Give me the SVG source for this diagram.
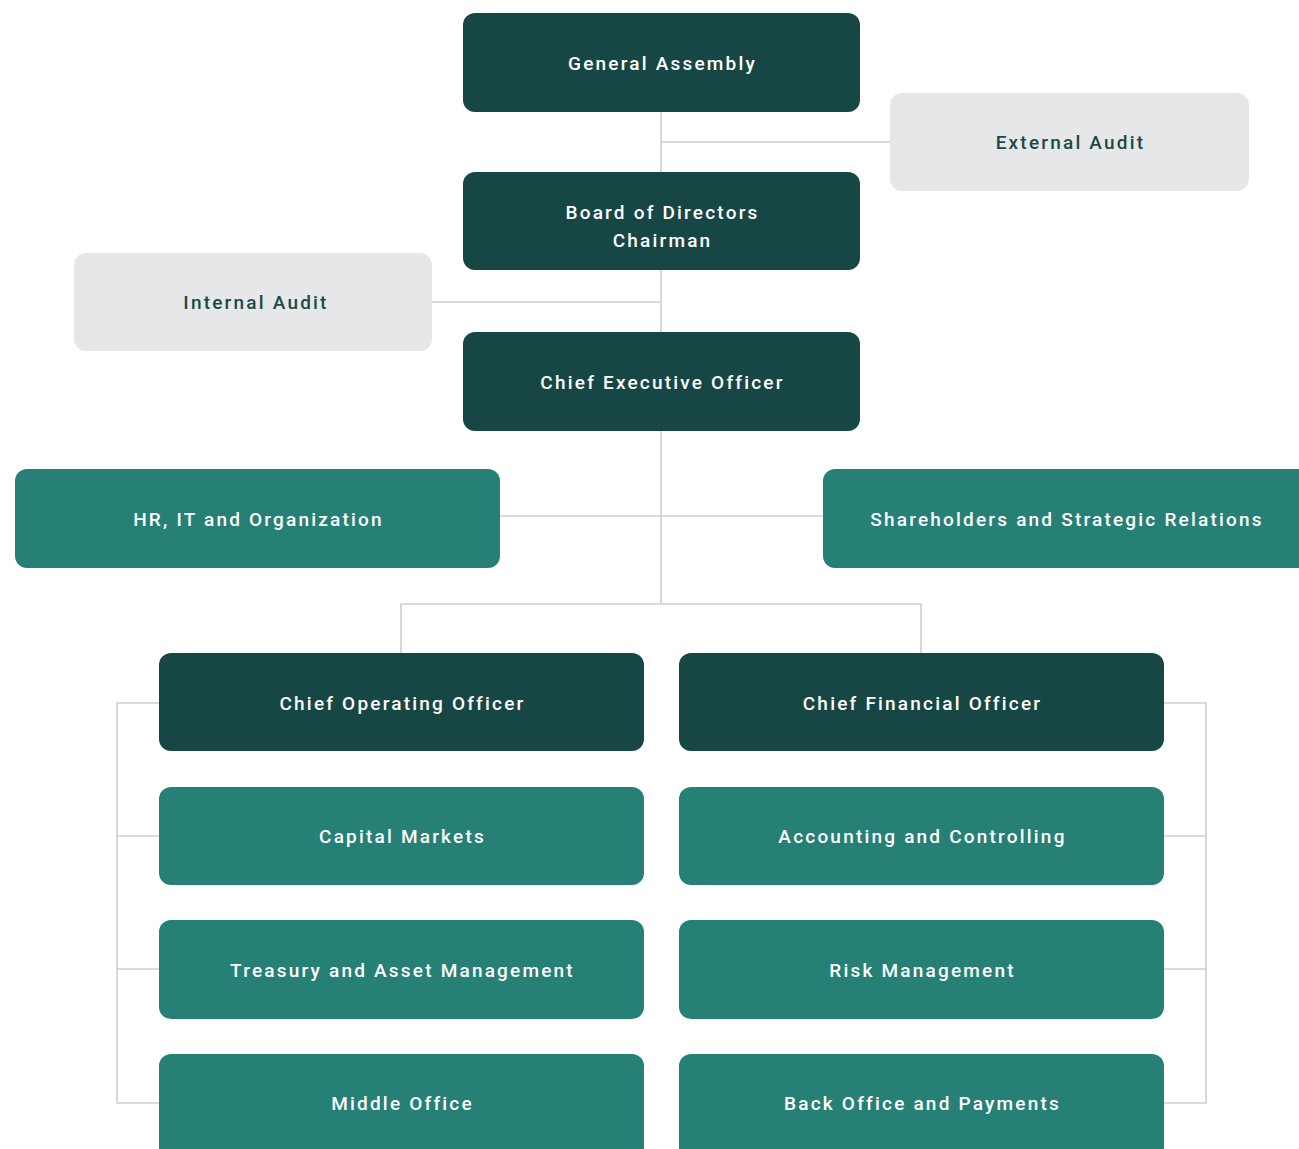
<svg xmlns="http://www.w3.org/2000/svg" width="1299" height="1149" viewBox="0 0 1299 1149">
  <style>
    .dark { fill: #174744; }
    .teal { fill: #268076; }
    .light { fill: #e6e7e9; }
    .lbl { font-family: Roboto, "Liberation Sans", sans-serif; font-size: 19px; font-weight: 500; letter-spacing: 2.2px; text-anchor: middle; dominant-baseline: central; fill: #ffffff; }
    .lbl-dark { fill: #1b4a46; }
    .conn { fill: none; stroke: #cfcfcf; stroke-width: 1.6; }
  </style>
  <rect width="1299" height="1149" fill="#ffffff"/>

  <g id="connectors">
    <path class="conn" d="M661 112 V604"/>
    <path class="conn" d="M661 142 H890"/>
    <path class="conn" d="M432 302 H661"/>
    <path class="conn" d="M500 516 H823"/>
    <path class="conn" d="M401 653 V604 H921 V653"/>
    <path class="conn" d="M159 703 H117 V1103 H159 M117 836 H159 M117 969 H159"/>
    <path class="conn" d="M1164 703 H1206 V1103 H1164 M1206 836 H1164 M1206 969 H1164"/>
  </g>

  <g id="general-assembly">
    <rect class="dark" x="463" y="13" width="397" height="99" rx="12"/>
    <text class="lbl" x="662.5" y="63">General Assembly</text>
  </g>
  <g id="external-audit">
    <rect class="light" x="890" y="93" width="359" height="98" rx="12"/>
    <text class="lbl lbl-dark" x="1070.5" y="142">External Audit</text>
  </g>
  <g id="board">
    <rect class="dark" x="463" y="172" width="397" height="98" rx="12"/>
    <text class="lbl" x="662.5" y="212">Board of Directors</text>
    <text class="lbl" x="662.5" y="240">Chairman</text>
  </g>
  <g id="internal-audit">
    <rect class="light" x="74" y="253" width="358" height="98" rx="12"/>
    <text class="lbl lbl-dark" x="256" y="302">Internal Audit</text>
  </g>
  <g id="ceo">
    <rect class="dark" x="463" y="332" width="397" height="99" rx="12"/>
    <text class="lbl" x="662.5" y="382">Chief Executive Officer</text>
  </g>
  <g id="hr-it">
    <rect class="teal" x="15" y="469" width="485" height="99" rx="12"/>
    <text class="lbl" x="258.5" y="519">HR, IT and Organization</text>
  </g>
  <g id="shareholders">
    <rect class="teal" x="823" y="469" width="490" height="99" rx="12"/>
    <text class="lbl" x="1067" y="519">Shareholders and Strategic Relations</text>
  </g>
  <g id="coo">
    <rect class="dark" x="159" y="653" width="485" height="98" rx="12"/>
    <text class="lbl" x="402.5" y="703">Chief Operating Officer</text>
  </g>
  <g id="cfo">
    <rect class="dark" x="679" y="653" width="485" height="98" rx="12"/>
    <text class="lbl" x="922.5" y="703">Chief Financial Officer</text>
  </g>
  <g id="capital-markets">
    <rect class="teal" x="159" y="787" width="485" height="98" rx="12"/>
    <text class="lbl" x="402.5" y="836">Capital Markets</text>
  </g>
  <g id="accounting">
    <rect class="teal" x="679" y="787" width="485" height="98" rx="12"/>
    <text class="lbl" x="922.5" y="836">Accounting and Controlling</text>
  </g>
  <g id="treasury">
    <rect class="teal" x="159" y="920" width="485" height="99" rx="12"/>
    <text class="lbl" x="402.5" y="970">Treasury and Asset Management</text>
  </g>
  <g id="risk">
    <rect class="teal" x="679" y="920" width="485" height="99" rx="12"/>
    <text class="lbl" x="922.5" y="970">Risk Management</text>
  </g>
  <g id="middle-office">
    <rect class="teal" x="159" y="1054" width="485" height="110" rx="12"/>
    <text class="lbl" x="402.5" y="1103">Middle Office</text>
  </g>
  <g id="back-office">
    <rect class="teal" x="679" y="1054" width="485" height="110" rx="12"/>
    <text class="lbl" x="922.5" y="1103">Back Office and Payments</text>
  </g>
</svg>
